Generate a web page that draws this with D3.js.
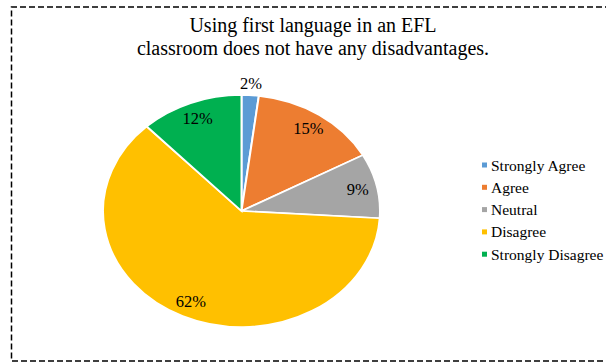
<!DOCTYPE html>
<html>
<head>
<meta charset="utf-8">
<script src="https://cdn.jsdelivr.net/npm/d3@7"></script>
<style>
  body { margin: 0; background: #fff; }
  svg { display: block; }
  text { font-family: "Liberation Serif", "Times New Roman", serif; fill: #000; }
</style>
</head>
<body>
<div id="chart"></div>
<script>
// data
const categories = ['Strongly Agree', 'Agree', 'Neutral', 'Disagree', 'Strongly Disagree'];
const values = [2, 15, 9, 62, 12];
const colors = ['#5B9BD5', '#ED7D31', '#A5A5A5', '#FFC000', '#00B050'];
const titleLines = ['Using first language in an EFL', 'classroom does not have any disadvantages.'];

const width = 606, height = 363;
const cx = 241.5, cy = 211;
const rx = 138.5, ry = 116;
const squash = ry / rx;

const svg = d3.select('#chart').append('svg')
  .attr('width', width)
  .attr('height', height);

// dashed frame (right side runs off the picture)
svg.append('path')
  .attr('d', `M${width + 5},7 H11.5 V361 H${width + 5}`)
  .attr('fill', 'none')
  .attr('stroke', '#000')
  .attr('stroke-width', 1.5)
  .attr('stroke-dasharray', '6,3');

// title
svg.append('text')
  .attr('text-anchor', 'middle')
  .style('font-size', '20px')
  .selectAll('tspan')
  .data(titleLines)
  .join('tspan')
  .attr('x', 313)
  .attr('y', (d, i) => 32 + i * 23)
  .text(d => d);

const color = d3.scaleOrdinal().domain(categories).range(colors);

const pie = d3.pie().sort(null).value(d => d.value);
const slices = pie(categories.map((c, i) => ({ name: c, value: values[i] })));

const arc = d3.arc().innerRadius(0).outerRadius(rx);

// pie drawn as a circle and squashed into the ellipse of the picture
const g = svg.append('g')
  .attr('transform', `translate(${cx},${cy}) scale(1,${squash})`);

g.selectAll('path')
  .data(slices)
  .join('path')
  .attr('d', arc)
  .attr('fill', d => color(d.data.name))
  .attr('stroke', '#fff')
  .attr('stroke-width', 2);

// data labels: inside for normal slices, just outside for tiny ones
const total = d3.sum(values);
function labelPos(d) {
  const share = d.data.value / total;
  const r = share < 0.05 ? rx * 1.1 : rx * 0.86;
  const a = (d.startAngle + d.endAngle) / 2;
  return [cx + Math.sin(a) * r, cy - Math.cos(a) * r * squash];
}

svg.append('g')
  .selectAll('text')
  .data(slices)
  .join('text')
  .attr('text-anchor', 'middle')
  .attr('dominant-baseline', 'central')
  .style('font-size', '16.5px')
  .attr('x', d => labelPos(d)[0])
  .attr('y', d => labelPos(d)[1])
  .text(d => d3.format('.0%')(d.data.value / total));

// legend
const legend = svg.append('g')
  .attr('transform', 'translate(482,165)');

const rows = legend.selectAll('g')
  .data(categories)
  .join('g')
  .attr('transform', (d, i) => `translate(0,${i * 22.3})`);

rows.append('rect')
  .attr('x', 0)
  .attr('y', -2.5)
  .attr('width', 5)
  .attr('height', 5)
  .attr('fill', d => color(d));

rows.append('text')
  .attr('x', 9)
  .attr('dominant-baseline', 'central')
  .style('font-size', '15.5px')
  .text(d => d);
</script>
</body>
</html>
